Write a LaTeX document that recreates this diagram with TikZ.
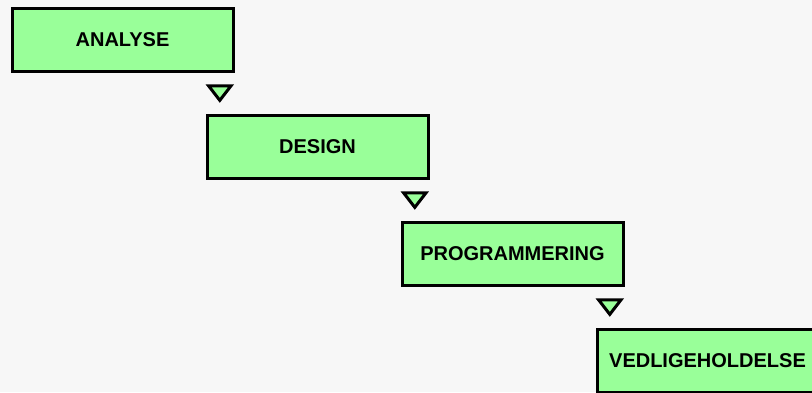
\documentclass[tikz,border=0pt]{standalone}
\usepackage{fontspec}
\setmainfont{Liberation Sans}
\usetikzlibrary{calc}
\definecolor{bgcol}{HTML}{F7F7F7}
\definecolor{phasegreen}{HTML}{99FF99}
\tikzset{
  phase/.style={draw=black, fill=phasegreen, line width=3pt,
    minimum width=221pt, minimum height=62.5pt, inner sep=0pt,
    font=\bfseries\fontsize{20}{24}\selectfont},
  flowmark/.style={draw=black, fill=phasegreen, line width=3pt, line join=miter}
}
\begin{document}
\begin{tikzpicture}[x=1pt,y=-1pt]
  % canvas
  \fill[bgcol] (0,0) rectangle (812,392);
  \useasboundingbox (0,0) rectangle (812,392);
  \begin{scope}
    \clip (0,0) rectangle (812,392);
    % the four phases, stepping down to the right
    \node[phase] (analyse) at (122.5,40)  {ANALYSE};
    \node[phase] (design)  at (317.5,147) {DESIGN};
    \node[phase] (prog)    at (512.5,254) {PROGRAMMERING};
    \node[phase] (vedl)    at (707.5,361) {VEDLIGEHOLDELSE};
    % downward markers between the phases
    \foreach \p in {analyse,design,prog}{
      \draw[flowmark]
        ($(\p.south east)+(-25.9,13.1)$) -- ($(\p.south east)+(-3.5,13.1)$)
        -- ($(\p.south east)+(-14.7,27.6)$) -- cycle;
    }
  \end{scope}
\end{tikzpicture}
\end{document}
